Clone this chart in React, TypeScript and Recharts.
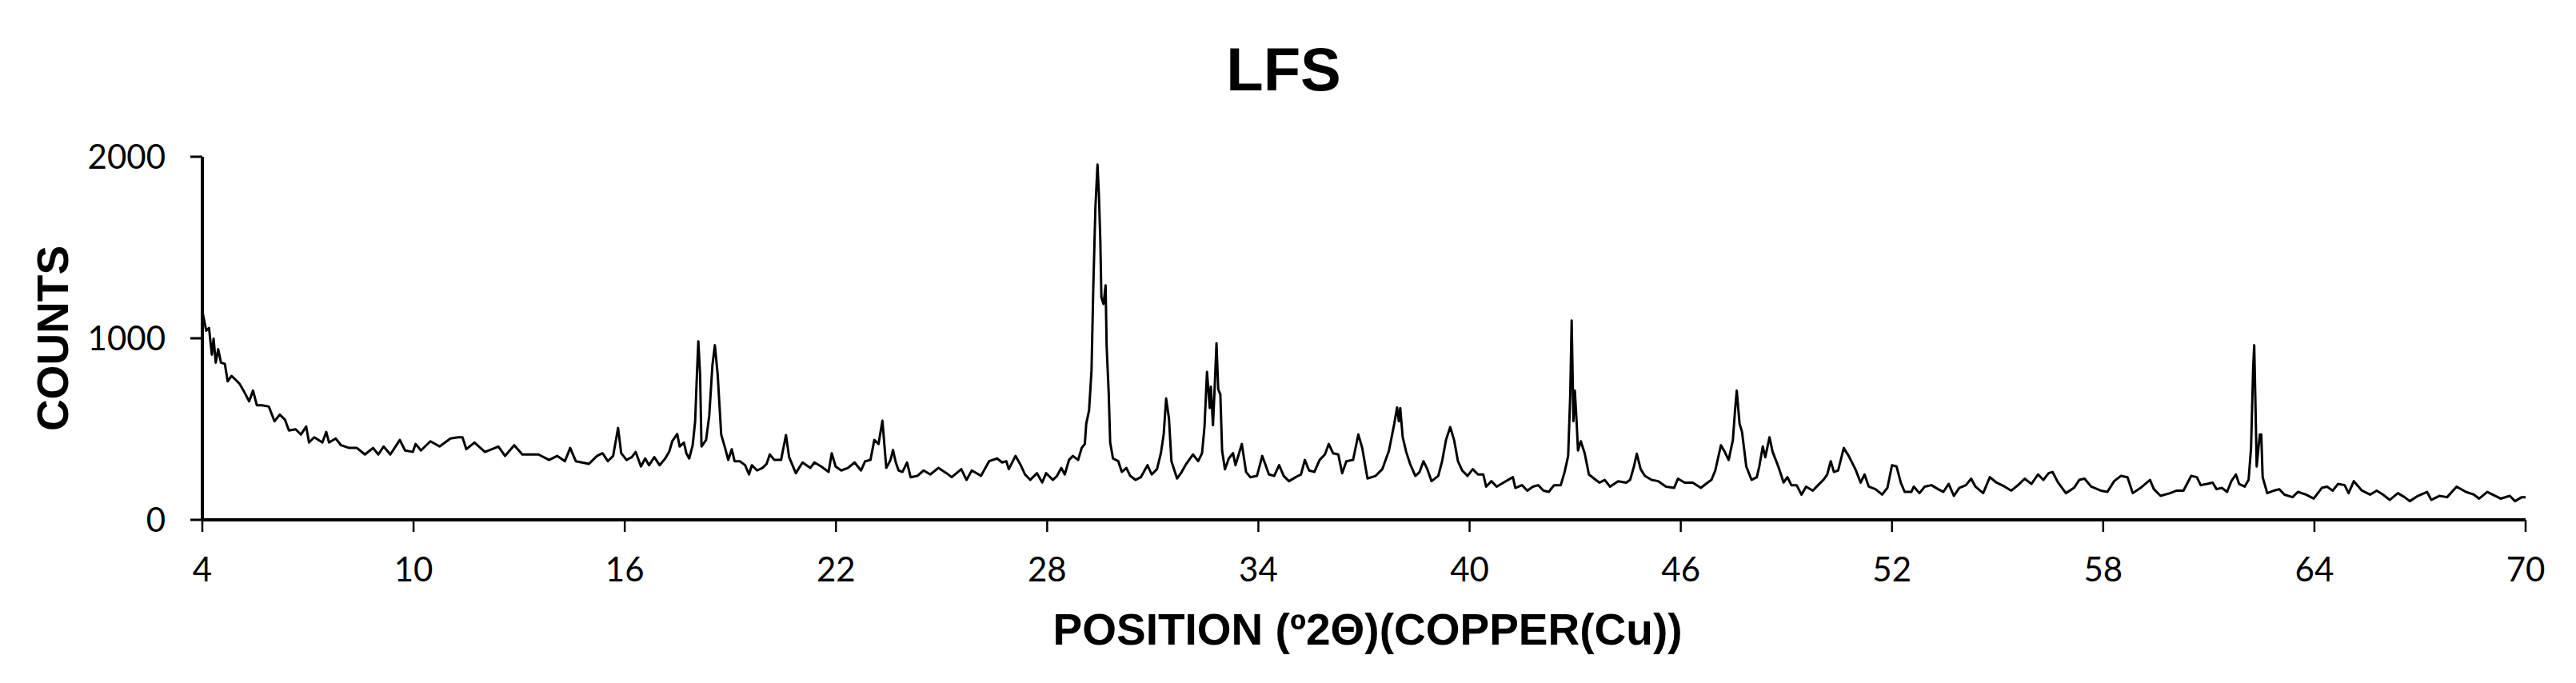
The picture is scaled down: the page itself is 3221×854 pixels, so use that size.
import { LineChart, Line, XAxis, YAxis } from 'recharts'

// XRD scan, [2θ (deg), counts], split by region
const scanLowAngle: [number, number][] = [
  [4.0, 1150], [4.11, 1042], [4.19, 1057], [4.27, 910], [4.32, 998], [4.38, 866], [4.45, 940],
  [4.53, 866], [4.64, 859], [4.72, 763], [4.83, 793], [4.95, 771], [5.06, 749], [5.17, 712],
  [5.33, 653], [5.44, 712], [5.55, 631], [5.7, 631], [5.89, 624], [6.05, 543], [6.2, 580],
  [6.35, 551], [6.46, 492], [6.65, 499], [6.8, 470], [6.95, 514], [7.03, 426], [7.18, 455],
  [7.41, 426], [7.52, 484], [7.6, 426], [7.79, 448], [7.94, 411], [8.17, 396], [8.39, 396],
  [8.62, 360], [8.85, 396], [9.0, 360], [9.15, 404], [9.34, 360], [9.61, 440], [9.76, 382],
  [9.98, 374], [10.06, 418], [10.21, 382], [10.48, 433], [10.74, 404], [11.05, 448], [11.27, 455],
  [11.39, 455], [11.5, 389], [11.73, 426], [12.03, 374], [12.41, 404], [12.6, 352], [12.86, 411],
  [13.09, 360], [13.55, 360], [13.85, 330], [14.08, 352], [14.3, 323], [14.45, 396], [14.61, 323],
  [14.98, 308], [15.21, 352], [15.37, 367], [15.52, 323], [15.67, 352], [15.81, 506], [15.9, 367],
  [16.05, 330], [16.2, 345], [16.31, 374], [16.46, 294], [16.58, 338], [16.69, 301], [16.84, 345],
  [16.99, 301], [17.15, 338], [17.26, 374], [17.35, 433], [17.49, 473], [17.56, 404], [17.68, 426],
  [17.75, 367], [17.83, 338], [17.93, 411], [18.0, 543], [18.05, 800], [18.09, 984], [18.14, 800],
  [18.18, 404], [18.31, 440], [18.4, 573], [18.49, 850], [18.56, 962], [18.64, 800], [18.74, 470],
  [18.85, 396], [18.94, 330], [19.04, 389], [19.12, 323], [19.27, 323], [19.42, 301], [19.53, 250],
  [19.61, 301], [19.76, 272], [19.91, 286], [20.03, 308], [20.12, 360], [20.25, 330], [20.44, 330],
  [20.58, 467], [20.67, 345], [20.86, 257], [21.05, 316], [21.27, 286], [21.39, 316], [21.58, 294],
  [21.79, 264], [21.88, 367], [21.99, 294], [22.15, 272], [22.34, 286], [22.53, 316], [22.71, 272],
  [22.83, 323], [22.98, 330], [23.09, 440], [23.21, 418], [23.32, 546], [23.43, 286], [23.55, 330],
  [23.62, 385], [23.7, 316], [23.78, 272], [23.89, 264], [24.02, 316], [24.12, 235], [24.31, 242],
  [24.49, 272], [24.68, 250], [24.91, 286], [25.14, 257], [25.29, 235], [25.56, 279], [25.71, 220],
  [25.86, 272], [26.12, 242], [26.35, 323], [26.58, 338], [26.72, 316], [26.84, 323], [26.91, 279],
  [27.1, 352], [27.25, 301], [27.37, 250], [27.52, 220], [27.71, 257], [27.86, 206], [27.97, 257],
  [28.16, 220], [28.28, 242], [28.4, 286], [28.5, 250], [28.62, 330], [28.73, 352], [28.88, 330],
]

const scanMainPeaks: [number, number][] = [
  [28.98, 396], [29.07, 418], [29.11, 529], [29.19, 602], [29.26, 822], [29.31, 1277], [29.37, 1718],
  [29.43, 1957], [29.47, 1791], [29.51, 1541], [29.54, 1226], [29.6, 1189], [29.66, 1292], [29.69, 954],
  [29.75, 690], [29.79, 426], [29.87, 338], [30.02, 323], [30.12, 264], [30.25, 286], [30.36, 242],
  [30.51, 220], [30.66, 235], [30.85, 301], [30.97, 250], [31.12, 279], [31.23, 367], [31.31, 470],
  [31.38, 668], [31.46, 558], [31.53, 323], [31.69, 228], [31.8, 257], [31.95, 308], [32.14, 360],
  [32.29, 323], [32.4, 367], [32.47, 514], [32.54, 815], [32.62, 616], [32.65, 734], [32.71, 521],
  [32.75, 690], [32.81, 972], [32.86, 719], [32.92, 690], [32.97, 381], [33.05, 279], [33.16, 338],
  [33.28, 367], [33.35, 301], [33.53, 418], [33.65, 264], [33.77, 235], [33.96, 242], [34.11, 352],
  [34.3, 250], [34.45, 242], [34.59, 301], [34.72, 242], [34.87, 213], [35.06, 235], [35.21, 250],
  [35.32, 330], [35.44, 272], [35.59, 264], [35.74, 330], [35.89, 360], [36.0, 418], [36.12, 367],
  [36.27, 360], [36.38, 257], [36.5, 323], [36.69, 330], [36.84, 470], [36.95, 396], [37.1, 228],
  [37.33, 242], [37.52, 279], [37.71, 381], [37.86, 529], [37.94, 619], [37.99, 543], [38.03, 616],
  [38.1, 455], [38.2, 374], [38.31, 308], [38.46, 242], [38.58, 264], [38.69, 323], [38.8, 279],
  [38.92, 213], [39.11, 242], [39.22, 323], [39.33, 440], [39.45, 511], [39.56, 440], [39.67, 323],
  [39.79, 272], [39.94, 242], [40.09, 279], [40.24, 250], [40.39, 250], [40.47, 183], [40.62, 213],
  [40.77, 183], [40.96, 205], [41.23, 235], [41.3, 176], [41.49, 191], [41.64, 161], [41.8, 183],
  [41.95, 191], [42.1, 161], [42.25, 154], [42.4, 191], [42.59, 191], [42.7, 264], [42.8, 352],
  [42.86, 690], [42.9, 1098], [42.95, 543], [42.99, 712], [43.04, 543], [43.08, 382], [43.16, 433],
  [43.27, 367], [43.39, 250], [43.54, 227], [43.69, 205], [43.84, 220], [43.99, 183], [44.22, 213],
  [44.45, 205], [44.56, 220], [44.67, 294], [44.75, 364], [44.86, 279], [44.98, 242], [45.17, 220],
  [45.36, 213], [45.58, 183], [45.81, 176], [45.92, 227], [46.11, 205], [46.34, 205], [46.57, 176],
  [46.76, 205], [46.87, 220], [46.98, 272], [47.14, 411], [47.25, 374], [47.36, 330], [47.48, 440],
  [47.54, 600], [47.59, 712], [47.67, 529], [47.74, 484], [47.86, 294], [48.01, 220], [48.16, 235],
  [48.23, 294], [48.33, 404], [48.4, 345], [48.52, 455], [48.61, 374], [48.77, 294], [48.92, 206],
  [49.03, 235], [49.14, 191],
]

const scanHighAngle: [number, number][] = [
  [49.29, 191], [49.43, 139], [49.56, 183], [49.75, 161], [49.9, 191], [50.05, 220], [50.16, 250],
  [50.26, 323], [50.35, 264], [50.47, 272], [50.63, 396], [50.77, 352], [50.96, 279], [51.11, 205],
  [51.22, 250], [51.34, 183], [51.53, 169], [51.72, 139], [51.87, 176], [52.0, 301], [52.13, 294],
  [52.25, 205], [52.36, 154], [52.55, 154], [52.62, 183], [52.78, 147], [52.93, 183], [53.12, 191],
  [53.31, 169], [53.46, 154], [53.61, 198], [53.76, 132], [53.91, 176], [54.1, 191], [54.25, 227],
  [54.37, 183], [54.59, 147], [54.78, 235], [54.97, 205], [55.2, 183], [55.39, 161], [55.58, 191],
  [55.77, 227], [55.96, 198], [56.15, 250], [56.3, 220], [56.45, 257], [56.56, 264], [56.72, 205],
  [56.94, 147], [57.17, 176], [57.32, 220], [57.47, 227], [57.66, 183], [57.93, 161], [58.12, 154],
  [58.31, 213], [58.5, 242], [58.69, 235], [58.84, 147], [59.06, 176], [59.33, 220], [59.44, 169],
  [59.63, 132], [59.9, 147], [60.09, 161], [60.28, 161], [60.5, 242], [60.66, 235], [60.77, 191],
  [60.95, 198], [61.11, 205], [61.22, 169], [61.37, 176], [61.52, 154], [61.64, 213], [61.77, 250],
  [61.86, 198], [62.02, 183], [62.13, 220], [62.2, 396], [62.26, 837], [62.29, 962], [62.32, 690],
  [62.36, 294], [62.41, 396], [62.45, 470], [62.49, 470], [62.53, 235], [62.66, 147], [62.85, 161],
  [63.0, 169], [63.15, 139], [63.38, 125], [63.53, 154], [63.76, 139], [63.98, 117], [64.21, 176],
  [64.36, 183], [64.52, 161], [64.67, 198], [64.86, 191], [64.97, 147], [65.12, 213], [65.35, 161],
  [65.58, 139], [65.77, 161], [65.95, 139], [66.14, 110], [66.37, 147], [66.56, 125], [66.71, 103],
  [66.94, 132], [67.2, 154], [67.32, 110], [67.55, 132], [67.77, 125], [68.04, 183], [68.3, 154],
  [68.53, 139], [68.68, 117], [68.91, 154], [69.14, 132], [69.29, 117], [69.55, 132], [69.7, 103],
  [69.89, 125], [70.0, 125],
]

const xTicks = [4, 10, 16, 22, 28, 34, 40, 46, 52, 58, 64, 70]
const yTicks = [0, 1000, 2000]

const data = [...scanLowAngle, ...scanMainPeaks, ...scanHighAngle].map(([x, y]) => ({ x, y }))

const W = 3221
const H = 854
const tickFont = { fontFamily: 'Lato, "Liberation Sans", sans-serif', fontSize: 42, fill: '#000' }
const boldFont = '"Liberation Sans", Arial, sans-serif'

export default function App() {
  return (
    <div style={{ position: 'absolute', left: 0, top: 0, width: W, height: H, background: '#fff' }}>
      <LineChart
        width={W}
        height={H}
        data={data}
        margin={{ top: 196, right: 63, bottom: 104, left: 153 }}
      >
        <XAxis
          dataKey="x"
          type="number"
          domain={[4, 70]}
          ticks={xTicks}
          interval={0}
          height={100}
          axisLine={{ stroke: '#000', strokeWidth: 4 }}
          tickLine={{ stroke: '#000', strokeWidth: 2.5 }}
          tickSize={15}
          tickMargin={32}
          tick={tickFont}
        />
        <YAxis
          type="number"
          domain={[0, 2000]}
          ticks={yTicks}
          interval={0}
          width={100}
          axisLine={{ stroke: '#000', strokeWidth: 4 }}
          tickLine={{ stroke: '#000', strokeWidth: 3 }}
          tickSize={15}
          tickMargin={31}
          tick={tickFont}
        />
        <Line
          dataKey="y"
          type="linear"
          stroke="#000"
          strokeWidth={3}
          strokeLinejoin="round"
          dot={false}
          isAnimationActive={false}
        />
      </LineChart>

      {/* title and axis titles */}
      <svg width={W} height={H} style={{ position: 'absolute', left: 0, top: 0, pointerEvents: 'none' }}>
        <text x={1605} y={113} textAnchor="middle" fontFamily={boldFont} fontWeight="bold" fontSize={76}>
          LFS
        </text>
        <text x={1710} y={806} textAnchor="middle" fontFamily={boldFont} fontWeight="bold" fontSize={55}>
          POSITION (º2Θ)(COPPER(Cu))
        </text>
        <text
          transform="translate(85,423) rotate(-90)"
          textAnchor="middle"
          fontFamily={boldFont}
          fontWeight="bold"
          fontSize={55}
        >
          COUNTS
        </text>
      </svg>
    </div>
  )
}
